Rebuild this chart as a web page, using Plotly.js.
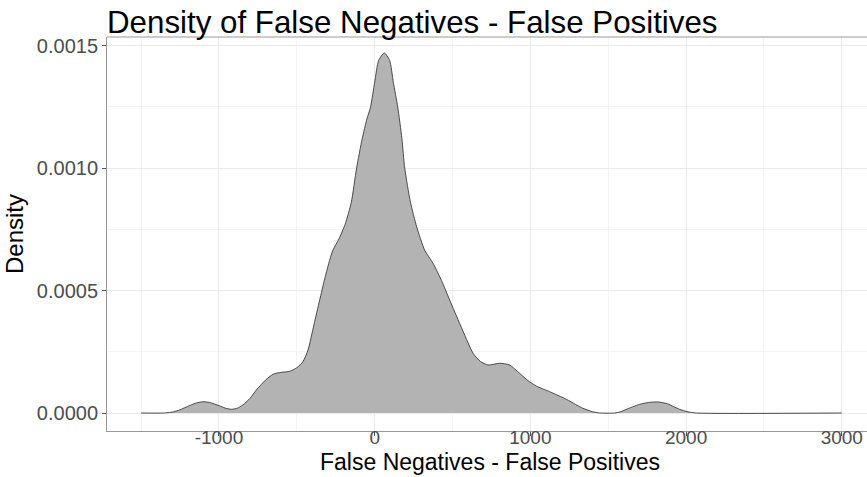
<!DOCTYPE html>
<html>
<head>
<meta charset="utf-8">
<script src="https://cdn.plot.ly/plotly-3.0.1.min.js"></script>
<style>html,body{margin:0;padding:0;background:#fff;}#chart{width:867px;height:477px;}</style>
</head>
<body>
<div id="chart"></div>
<script>
// Difference values (False Negatives - False Positives)
const diffValues = [-1500, -1349, -1290, -1250, -1200, -1150, -1103, -1060, -1000, -960, -920, -880, -846, -800, -760, -700, -653, -600, -546, -500, -460, -428, -390, -353, -320, -289, -268, -230, -190, -150, -116, -80, -50, -26, 0, 26, 62, 96, 120, 148, 175, 193, 230, 270, 321, 375, 430, 482, 550, 632, 680, 728, 803, 867, 931, 985, 1038, 1124, 1231, 1290, 1338, 1400, 1445, 1541, 1580, 1616, 1700, 1760, 1820, 1880, 1920, 1959, 2010, 2066, 3000];
// Estimated density at each difference value
const densityValues = [0, 0, 0.000005, 0.000013, 0.000027, 0.00004, 0.000046, 0.000043, 0.00003, 0.00002, 0.000015, 0.00002, 0.000033, 0.00006, 0.000094, 0.000135, 0.000158, 0.000166, 0.00017, 0.000185, 0.00021, 0.000257, 0.00036, 0.000461, 0.00055, 0.000624, 0.000665, 0.00071, 0.00077, 0.00086, 0.0010, 0.00112, 0.0012, 0.00125, 0.00135, 0.00144, 0.00147, 0.00144, 0.00135, 0.00125, 0.00112, 0.0010, 0.00086, 0.00076, 0.000665, 0.000611, 0.00054, 0.000461, 0.00036, 0.000244, 0.00021, 0.000196, 0.000203, 0.000196, 0.000162, 0.000132, 0.00011, 0.000087, 0.000056, 0.000035, 0.000019, 0.000005, 0, 0, 0.000005, 0.000015, 0.000035, 0.000043, 0.000045, 0.000038, 0.000026, 0.000015, 0.000005, 0, 0];
// Axis ticks
const xTickVals = [-1000, 0, 1000, 2000, 3000];
const xTickText = ['-1000', '0', '1000', '2000', '3000'];
const yTickVals = [0, 0.0005, 0.0010, 0.0015];
const yTickText = ['0.0000', '0.0005', '0.0010', '0.0015'];

const trace = {
  x: diffValues,
  y: densityValues,
  type: 'scatter',
  mode: 'lines',
  fill: 'tozeroy',
  fillcolor: '#b3b3b3',
  line: {color: '#3a3a3a', width: 0.9, shape: 'spline', smoothing: 0.6},
  hoverinfo: 'x+y'
};

const fontFam = '"Liberation Sans", Arial, sans-serif';
const layout = {
  width: 867,
  height: 477,
  margin: {l: 107, r: 0, t: 37, b: 46},
  paper_bgcolor: '#ffffff',
  plot_bgcolor: '#ffffff',
  showlegend: false,
  font: {family: fontFam, color: '#000'},
  title: {
    text: 'Density of False Negatives - False Positives',
    font: {family: fontFam, size: 31.3, color: '#000'},
    xref: 'paper', x: 0, xanchor: 'left',
    yref: 'container', y: 1 - 22/477, yanchor: 'middle'
  },
  xaxis: {
    range: [-1719, 3162],
    tickmode: 'array', tickvals: xTickVals, ticktext: xTickText,
    ticks: 'outside', ticklen: 4, tickcolor: '#555', tickwidth: 1,
    ticklabelstandoff: -15,
    tickfont: {family: fontFam, size: 19, color: '#4d4d4d'},
    showgrid: true, gridcolor: '#ebebeb', gridwidth: 1,
    minor: {tickvals: [-1500, -500, 500, 1500, 2500], showgrid: true, gridcolor: '#f4f4f4', gridwidth: 1, ticks: ''},
    zeroline: false,
    showline: true, linecolor: '#999', linewidth: 1, mirror: false
  },
  yaxis: {
    range: [-0.0000735, 0.001535],
    tickmode: 'array', tickvals: yTickVals, ticktext: yTickText,
    ticks: 'outside', ticklen: 4, tickcolor: '#555', tickwidth: 1,
    tickfont: {family: fontFam, size: 20, color: '#4d4d4d'},
    showgrid: true, gridcolor: '#ebebeb', gridwidth: 1,
    minor: {tickvals: [0.00025, 0.00075, 0.00125], showgrid: true, gridcolor: '#f4f4f4', gridwidth: 1, ticks: ''},
    zeroline: false,
    showline: true, linecolor: '#999', linewidth: 1, mirror: false,
    title: {text: 'Density', font: {family: fontFam, size: 24, color: '#000'}, standoff: 6}
  },
  shapes: [
    {type: 'line', xref: 'paper', yref: 'paper', x0: 0, x1: 1, y0: 1, y1: 1, line: {color: '#999', width: 1}}
  ],
  annotations: [
    {text: 'False Negatives - False Positives', xref: 'paper', x: 0.504, xanchor: 'center',
     yref: 'paper', y: -(462 - 431) / 394, yanchor: 'middle', showarrow: false,
     font: {family: fontFam, size: 23, color: '#000'}}
  ]
};

Plotly.newPlot('chart', [trace], layout, {displayModeBar: false, staticPlot: true});
</script>
</body>
</html>
